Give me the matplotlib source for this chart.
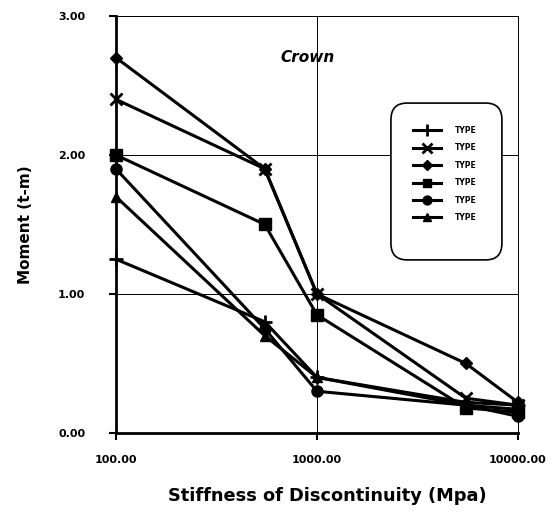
import matplotlib
matplotlib.use("Agg")
import matplotlib.pyplot as plt
from matplotlib.patches import FancyBboxPatch
from matplotlib.ticker import FixedLocator, FixedFormatter, NullLocator

plt.rcParams['font.family'] = ['DejaVu Sans']

# stiffness of discontinuity (Mpa)
stiffness = [100, 550, 1000, 5500, 10000]

# moment (t-m) for each type
type_plus = [1.25, 0.80, 0.40, 0.22, 0.20]
type_star = [2.40, 1.90, 1.00, 0.25, 0.20]
type_diamond = [2.70, 1.90, 1.00, 0.50, 0.22]
type_square = [2.00, 1.50, 0.85, 0.18, 0.15]
type_circle = [1.90, 0.75, 0.30, 0.20, 0.12]
type_triangle = [1.70, 0.70, 0.40, 0.20, 0.17]

labels = ["TYPE"] * 6
series = [type_plus, type_star, type_diamond, type_square, type_circle, type_triangle]
markers = ["+", "x", "D", "s", "o", "^"]
msizes = [10, 9, 6, 8, 8, 7]

x_ticks = [100, 1000, 10000]
x_tick_labels = ["100.00", "1000.00", "10000.00"]
y_ticks = [0, 1, 2, 3]
y_tick_labels = ["0.00", "1.00", "2.00", "3.00"]

fig = plt.figure(figsize=(5.57, 5.13), dpi=100)
ax = fig.add_axes([0.208, 0.156, 0.722, 0.813])

for vals, mk, ms, lab in zip(series, markers, msizes, labels):
    ax.plot(stiffness, vals, color="black", lw=2.2, marker=mk, ms=ms,
            mew=2 if mk in "+x" else 1, label=lab, clip_on=False)

ax.set_xscale("log")
ax.set_xlim(100, 10000)
ax.set_ylim(0, 3)
ax.xaxis.set_major_locator(FixedLocator(x_ticks))
ax.xaxis.set_major_formatter(FixedFormatter(x_tick_labels))
ax.xaxis.set_minor_locator(NullLocator())
ax.yaxis.set_major_locator(FixedLocator(y_ticks))
ax.yaxis.set_major_formatter(FixedFormatter(y_tick_labels))

ax.grid(True, color="black", lw=0.7)
for s in ["top", "right"]:
    ax.spines[s].set_linewidth(0.7)
for s in ["left", "bottom"]:
    ax.spines[s].set_linewidth(2)
ax.tick_params(axis="both", direction="out", length=5, width=1.5,
               labelsize=8)
ax.tick_params(axis="x", pad=11)
ax.tick_params(axis="y", pad=17)
for t in ax.get_xticklabels() + ax.get_yticklabels():
    t.set_fontweight("bold")

ax.set_xlabel("Stiffness of Discontinuity (Mpa)", fontsize=12.8,
              fontweight="bold", labelpad=16)
ax.xaxis.label.set_x(0.525)
ax.set_ylabel("Moment (t-m)", fontsize=11, fontweight="bold", labelpad=18)

ax.text(900, 2.7, "Crown", fontsize=11, fontweight="bold", style="italic",
        ha="center", va="center")

# rounded legend box
box = FancyBboxPatch((0.684, 0.415), 0.276, 0.376, transform=ax.transAxes,
                     boxstyle="round,pad=0,rounding_size=0.04",
                     fc="white", ec="black", lw=1.2, zorder=4)
ax.add_patch(box)
leg = ax.legend(loc="upper left", bbox_to_anchor=(0.73, 0.745), frameon=False,
                prop={"weight": "bold", "size": 5.5}, handlelength=3.6,
                labelspacing=1.1, borderpad=0, handletextpad=1.8,
                markerscale=0.8)
leg.set_zorder(5)

fig.savefig("out.png", dpi=100)
